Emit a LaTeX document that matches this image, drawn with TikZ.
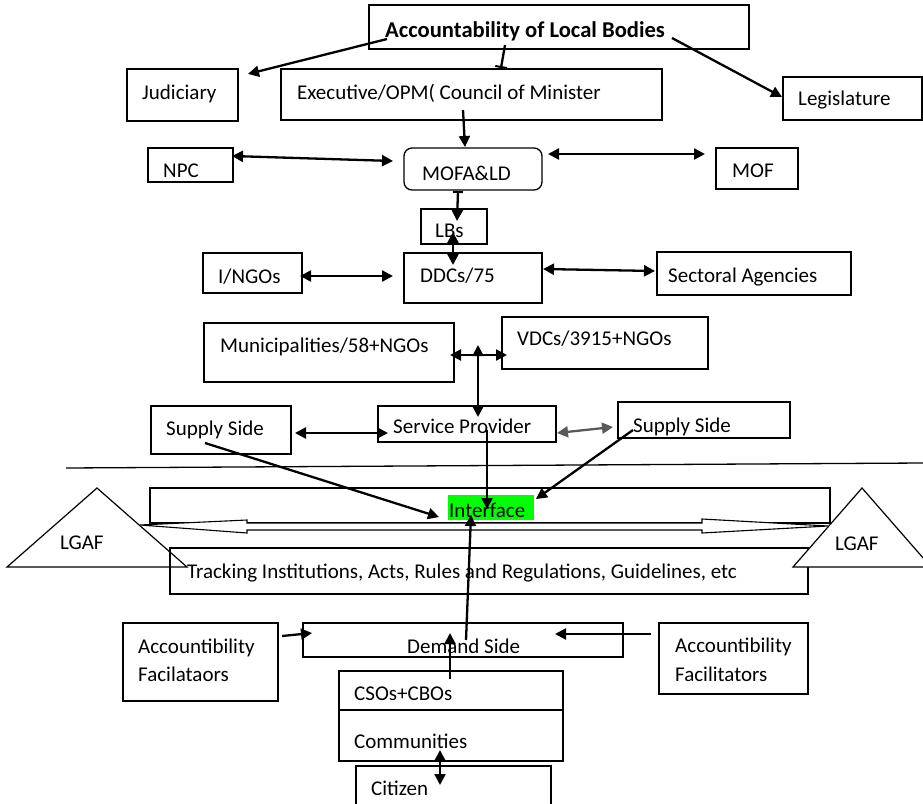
\documentclass[tikz,border=0pt]{standalone}
\usepackage{fontspec}
\setmainfont{Carlito}
\usetikzlibrary{arrows.meta}
\tikzset{
  box/.style={draw, line width=1.3pt, anchor=north west, inner sep=0pt, outer sep=0pt},
  lbl/.style={anchor=base west, inner sep=0pt, font=\fontsize{21}{24}\selectfont},
  tip/.tip={Triangle[length=11pt,width=11pt]},
  conn/.style={line width=2.3pt, -tip},
  dconn/.style={line width=2.3pt, tip-tip},
  barconn/.style={line width=2.3pt, -{Bar[width=12pt,line width=2pt]}},
}
\newcommand\bx[6][]{\node[box,#1, minimum width={(#4-#2)*1pt}, minimum height={(#6-#3)*1pt}] (#5) at (#2,#3) {};}
\begin{document}
\begin{tikzpicture}[x=1pt,y=-1pt]
\useasboundingbox (0,0) rectangle (923,803);
% ---------- boxes ----------
\bx{369}{5}{749}{title}{49}
\node[lbl,font=\fontsize{22.6}{26}\selectfont\bfseries] (titlet) at (385,37) {Accountability of Local Bodies};
\bx{127}{69}{238}{jud}{121}
\node[lbl] (judt) at (142,99) {Judiciary};
\bx{281}{69}{662}{exec}{120}
\node[lbl] (exect) at (297,99) {Executive/OPM( Council of Minister};
\bx{783}{77}{922}{leg}{120}
\node[lbl] (legt) at (798,105) {Legislature};
\bx{148}{148}{233}{npc}{182}
\node[lbl] (npct) at (163,177) {NPC};
\bx[rounded corners=8pt]{404}{148}{542}{mofa}{190}
\node[lbl] (mofat) at (422,180) {MOFA\&LD};
\bx{716}{148}{798}{mof}{189}
\node[lbl] (moft) at (732,177) {MOF};
\bx{421}{209}{487}{lbs}{244}
\node[lbl] (lbst) at (435,237) {LBs};
\bx{203}{253}{302}{ingo}{293}
\node[lbl] (ingot) at (218,283) {I/NGOs};
\bx{404}{253}{542}{ddc}{303}
\node[lbl] (ddct) at (420,282) {DDCs/75};
\bx{657}{252}{851}{sect}{295}
\node[lbl] (sectt) at (668,282) {Sectoral Agencies};
\bx{204}{323}{454}{muni}{382}
\node[lbl] (munit) at (220,352) {Municipalities/58+NGOs};
\bx{502}{317}{708}{vdc}{369}
\node[lbl] (vdct) at (517,345) {VDCs/3915+NGOs};
\bx{378}{406}{556}{sp}{442}
\node[lbl] (spt) at (393,433) {Service Provider};
\bx{151}{406}{291}{ssl}{454}
\node[lbl] (sslt) at (166,435) {Supply Side};
\bx{618}{402}{790}{ssr}{438}
\node[lbl] (ssrt) at (633,432) {Supply Side};
% separator
\draw[line width=1.3pt] (66,468) coordinate (sepL) -- (923,463) coordinate (sepR);
% interface area
\bx{150}{488}{830}{iface}{523}
\draw[line width=1.2pt, fill=white] (7,567) -- (97,488) -- (187,567) -- cycle;
\draw[line width=1.1pt, fill=white] (140,525) -- (247,520) -- (247,523) -- (702,523) -- (702,519)
   -- (828,526) -- (702,533) -- (702,530) -- (247,530) -- (247,533) -- cycle;
\bx{170}{548}{808}{track}{594}
\node[lbl] (trackt) at (187,578) {Tracking Institutions, Acts, Rules and Regulations, Guidelines, etc};
\draw[line width=1.2pt, fill=white] (793,567) -- (862,488) -- (931,567) -- cycle;
\node[lbl] (lgafl) at (60,549) {LGAF};
\node[lbl] (lgafr) at (835,550) {LGAF};
\fill[green] (448,495) rectangle (534,520);
\node[lbl] (ifacet) at (449,517) {Interface};
% demand side
\bx{123}{623}{278}{afl}{701}
\node[lbl] (aflt1) at (138,653) {Accountibility};
\node[lbl] (aflt2) at (138,681) {Facilataors};
\bx{303}{623}{623}{dem}{657}
\node[lbl] (demt) at (407,653) {Demand Side};
\bx{659}{623}{808}{afr}{694}
\node[lbl] (afrt1) at (675,652) {Accountibility};
\node[lbl] (afrt2) at (675,681) {Facilitators};
\bx{339}{671}{563}{cso}{761}
\draw[line width=1.3pt] (cso.west |- 0,710) -- (cso.east |- 0,710);
\node[lbl] (csot) at (354,700) {CSOs+CBOs};
\node[lbl] (comt) at (354,748) {Communities};
\bx{356}{766}{551}{cit}{812}
\node[lbl] (citt) at (371,795) {Citizen};
% ---------- connector end points ----------
\coordinate (c1a) at (387,39);  \coordinate (c1b) at (248,74);
\coordinate (c2a) at (505,45);  \coordinate (c2b) at (501,68);
\coordinate (c3a) at (672,38);  \coordinate (c3b) at (782,97);
\coordinate (c4a) at (463,110); \coordinate (c4b) at (465,147);
\coordinate (c5a) at (232,156); \coordinate (c5b) at (393,161);
\coordinate (c6a) at (548,154); \coordinate (c6b) at (705,154);
\coordinate (c7a) at (458,191); \coordinate (c7b) at (457,221);
\coordinate (c8a) at (453,232); \coordinate (c8b) at (453,265);
\coordinate (c9a) at (300,276); \coordinate (c9b) at (393,276);
\coordinate (c10a) at (543,269); \coordinate (c10b) at (655,271);
\coordinate (c11a) at (450,355); \coordinate (c11b) at (507,355);
\coordinate (c12a) at (478,345); \coordinate (c12b) at (478,417);
\coordinate (c13a) at (295,433); \coordinate (c13b) at (388,433);
\coordinate (c14a) at (557,433); \coordinate (c14b) at (613,427);
\coordinate (c15a) at (205,443); \coordinate (c15b) at (439,517);
\coordinate (c16a) at (487,430); \coordinate (c16b) at (487,509);
\coordinate (c17a) at (633,430); \coordinate (c17b) at (536,499);
\coordinate (c18a) at (466,640); \coordinate (c18b) at (471,515);
\coordinate (c19a) at (282,636); \coordinate (c19b) at (312,633);
\coordinate (c20a) at (651,634); \coordinate (c20b) at (555,634);
\coordinate (c21a) at (450,679); \coordinate (c21b) at (450,633);
\coordinate (c22a) at (440,750); \coordinate (c22b) at (440,785);
% ---------- connectors ----------
\draw[conn] (c1a) -- (c1b);
\draw[barconn] (c2a) -- (c2b);
\draw[conn] (c3a) -- (c3b);
\draw[conn] (c4a) -- (c4b);
\draw[dconn] (c5a) -- (c5b);
\draw[dconn] (c6a) -- (c6b);
\draw[line width=2.3pt, {Bar[width=10pt,line width=2pt]}-tip] (c7a) -- (c7b);
\draw[dconn] (c8a) -- (c8b);
\draw[dconn] (c9a) -- (c9b);
\draw[dconn] (c10a) -- (c10b);
\draw[dconn] (c11a) -- (c11b);
\draw[dconn] (c12a) -- (c12b);
\draw[dconn] (c13a) -- (c13b);
\draw[dconn, draw=black!65, fill=black!65] (c14a) -- (c14b);
\draw[conn] (c15a) -- (c15b);
\draw[conn] (c16a) -- (c16b);
\draw[conn] (c17a) -- (c17b);
\draw[conn] (c18a) -- (c18b);
\draw[conn] (c19a) -- (c19b);
\draw[conn] (c20a) -- (c20b);
\draw[conn] (c21a) -- (c21b);
\draw[dconn] (c22a) -- (c22b);
\end{tikzpicture}
\end{document}
